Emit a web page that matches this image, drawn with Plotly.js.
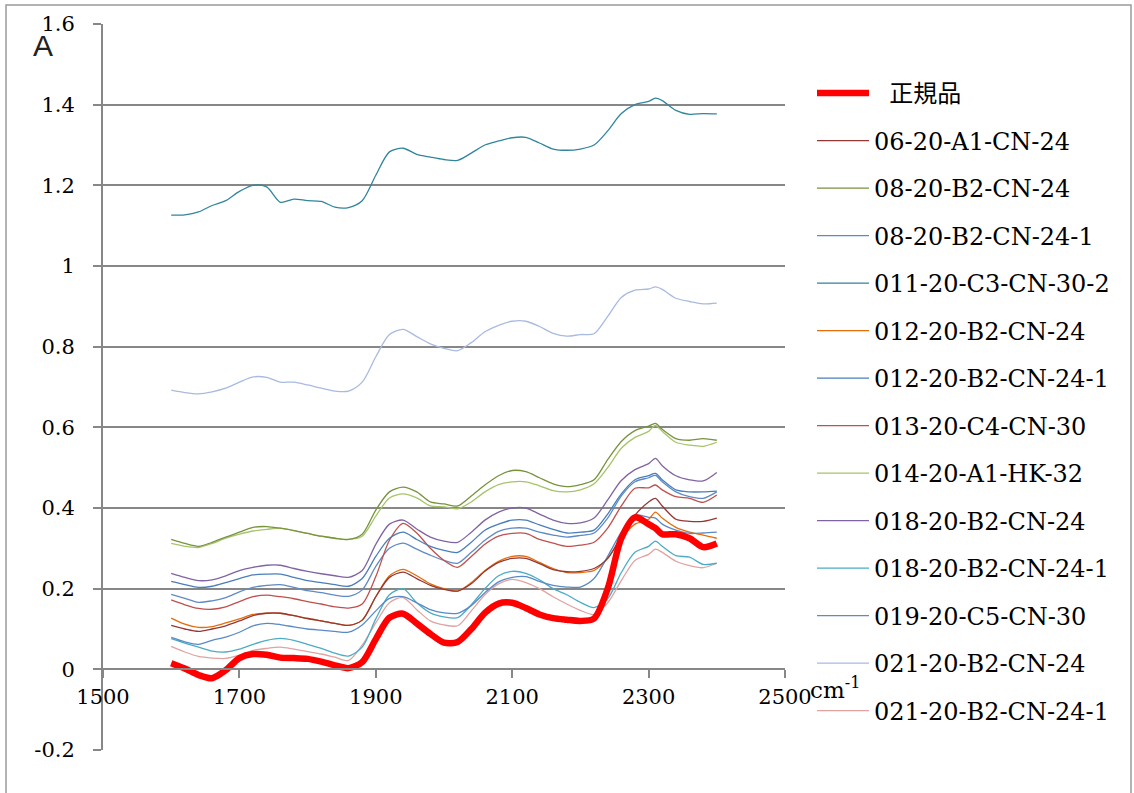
<!DOCTYPE html>
<html>
<head>
<meta charset="utf-8">
<script src="https://cdn.plot.ly/plotly-3.0.1.min.js"></script>
<style>html,body{margin:0;padding:0;background:#fff;}#chart{width:1134px;height:793px;}</style>
</head>
<body>
<div id="chart"></div>
<script>
// wavenumber (cm-1)
const wavenumber = [1600,1620,1640,1660,1680,1700,1720,1740,1760,1780,1800,1820,1840,1860,1880,1900,1920,1940,1960,1980,2000,2020,2040,2060,2080,2100,2120,2140,2160,2180,2200,2220,2240,2260,2280,2300,2310,2320,2340,2360,2380,2400];

const seikihin = [0.015,0.002,-0.014,-0.022,-0.002,0.028,0.038,0.036,0.029,0.028,0.026,0.019,0.010,0.003,0.018,0.075,0.128,0.138,0.114,0.088,0.066,0.068,0.10,0.14,0.163,0.165,0.152,0.136,0.127,0.123,0.12,0.126,0.2,0.325,0.377,0.36,0.35,0.335,0.335,0.325,0.303,0.312];
const s06_20_A1_CN_24 = [0.109,0.1,0.094,0.1,0.108,0.12,0.133,0.139,0.139,0.133,0.126,0.12,0.114,0.109,0.122,0.18,0.228,0.241,0.225,0.208,0.198,0.194,0.212,0.243,0.265,0.275,0.275,0.262,0.247,0.242,0.243,0.25,0.275,0.33,0.382,0.415,0.424,0.405,0.372,0.367,0.367,0.375];
const s08_20_B2_CN_24 = [0.322,0.312,0.305,0.315,0.328,0.34,0.352,0.354,0.35,0.344,0.337,0.33,0.325,0.322,0.335,0.395,0.44,0.452,0.44,0.415,0.41,0.405,0.43,0.457,0.48,0.493,0.49,0.475,0.46,0.453,0.458,0.47,0.52,0.565,0.592,0.603,0.61,0.595,0.572,0.568,0.572,0.568];
const s08_20_B2_CN_24_1 = [0.079,0.068,0.062,0.072,0.08,0.092,0.108,0.114,0.111,0.105,0.1,0.097,0.094,0.092,0.11,0.145,0.176,0.18,0.165,0.148,0.14,0.139,0.158,0.19,0.217,0.228,0.23,0.218,0.208,0.204,0.204,0.225,0.28,0.34,0.382,0.377,0.375,0.36,0.345,0.337,0.338,0.34];
const s011_20_C3_CN_30_2 = [1.126,1.127,1.134,1.15,1.162,1.185,1.2,1.196,1.158,1.166,1.162,1.16,1.146,1.145,1.162,1.225,1.283,1.292,1.277,1.27,1.264,1.262,1.28,1.3,1.31,1.318,1.319,1.305,1.29,1.287,1.29,1.3,1.335,1.378,1.4,1.408,1.416,1.41,1.386,1.376,1.378,1.377];
const s012_20_B2_CN_24 = [0.127,0.112,0.104,0.106,0.115,0.125,0.136,0.139,0.139,0.133,0.126,0.12,0.114,0.109,0.122,0.18,0.232,0.248,0.232,0.212,0.2,0.194,0.215,0.245,0.268,0.28,0.28,0.265,0.25,0.24,0.24,0.245,0.275,0.325,0.36,0.372,0.39,0.375,0.352,0.34,0.333,0.325];
const s012_20_B2_CN_24_1 = [0.218,0.21,0.203,0.206,0.215,0.225,0.234,0.236,0.236,0.228,0.22,0.215,0.21,0.206,0.225,0.28,0.325,0.34,0.322,0.305,0.295,0.29,0.315,0.345,0.36,0.37,0.37,0.358,0.347,0.338,0.34,0.345,0.385,0.435,0.47,0.48,0.486,0.47,0.445,0.44,0.44,0.442];
const s013_20_C4_CN_30 = [0.172,0.16,0.151,0.149,0.155,0.168,0.18,0.184,0.18,0.175,0.168,0.162,0.155,0.152,0.162,0.23,0.32,0.362,0.338,0.3,0.27,0.253,0.28,0.31,0.33,0.337,0.337,0.322,0.313,0.305,0.308,0.315,0.35,0.405,0.449,0.45,0.457,0.445,0.428,0.424,0.414,0.432];
const s014_20_A1_HK_32 = [0.312,0.305,0.302,0.312,0.325,0.335,0.343,0.347,0.35,0.344,0.337,0.33,0.325,0.322,0.33,0.38,0.425,0.435,0.425,0.405,0.403,0.398,0.415,0.44,0.458,0.465,0.465,0.455,0.443,0.44,0.445,0.46,0.5,0.548,0.575,0.59,0.605,0.59,0.563,0.556,0.553,0.563];
const s018_20_B2_CN_24 = [0.238,0.228,0.22,0.222,0.232,0.245,0.253,0.258,0.258,0.25,0.243,0.237,0.232,0.228,0.245,0.31,0.36,0.37,0.348,0.328,0.318,0.315,0.34,0.37,0.39,0.4,0.4,0.385,0.37,0.362,0.363,0.375,0.42,0.468,0.495,0.51,0.523,0.505,0.48,0.47,0.467,0.488];
const s018_20_B2_CN_24_1 = [0.076,0.065,0.055,0.045,0.043,0.05,0.062,0.072,0.077,0.072,0.062,0.052,0.04,0.033,0.055,0.125,0.185,0.2,0.165,0.14,0.13,0.128,0.16,0.2,0.232,0.243,0.238,0.222,0.2,0.185,0.166,0.153,0.175,0.24,0.29,0.305,0.318,0.305,0.282,0.278,0.26,0.263];
const s019_20_C5_CN_30 = [0.186,0.176,0.166,0.17,0.178,0.192,0.203,0.208,0.21,0.203,0.195,0.19,0.184,0.181,0.197,0.255,0.3,0.313,0.298,0.283,0.27,0.263,0.29,0.32,0.342,0.35,0.35,0.34,0.333,0.328,0.332,0.338,0.375,0.43,0.465,0.475,0.481,0.465,0.44,0.428,0.424,0.44];
const s021_20_B2_CN_24 = [0.692,0.686,0.683,0.688,0.697,0.712,0.725,0.724,0.712,0.712,0.705,0.697,0.69,0.69,0.712,0.775,0.83,0.843,0.825,0.807,0.796,0.79,0.81,0.837,0.853,0.863,0.863,0.85,0.833,0.826,0.83,0.832,0.875,0.922,0.94,0.943,0.948,0.942,0.92,0.912,0.906,0.908];
const s021_20_B2_CN_24_1 = [0.057,0.043,0.032,0.028,0.027,0.035,0.047,0.052,0.055,0.05,0.044,0.038,0.03,0.022,0.06,0.115,0.165,0.178,0.148,0.12,0.11,0.108,0.145,0.185,0.212,0.223,0.215,0.2,0.18,0.162,0.146,0.136,0.165,0.22,0.27,0.285,0.298,0.29,0.268,0.257,0.252,0.263];

const seriesNames = ['正規品','06-20-A1-CN-24','08-20-B2-CN-24','08-20-B2-CN-24-1','011-20-C3-CN-30-2','012-20-B2-CN-24','012-20-B2-CN-24-1','013-20-C4-CN-30','014-20-A1-HK-32','018-20-B2-CN-24','018-20-B2-CN-24-1','019-20-C5-CN-30','021-20-B2-CN-24','021-20-B2-CN-24-1'];
const seriesValues = [seikihin,s06_20_A1_CN_24,s08_20_B2_CN_24,s08_20_B2_CN_24_1,s011_20_C3_CN_30_2,s012_20_B2_CN_24,s012_20_B2_CN_24_1,s013_20_C4_CN_30,s014_20_A1_HK_32,s018_20_B2_CN_24,s018_20_B2_CN_24_1,s019_20_C5_CN_30,s021_20_B2_CN_24,s021_20_B2_CN_24_1];
const seriesColors = ['#FF0000','#953735','#77933C','#5A8AC6','#31859C','#E46C0A','#4A7EBB','#C0504D','#A6C46A','#8064A2','#4BACC6','#5F8BC4','#A9BAE0','#E0A3A2'];

const yTickVals = [-0.2,0,0.2,0.4,0.6,0.8,1,1.2,1.4,1.6];
const yTickText = ['-0.2','0','0.2','0.4','0.6','0.8','1','1.2','1.4','1.6'];
const xTickVals = [1500,1700,1900,2100,2300,2500];
const xTickText = ['1500','1700','1900','2100','2300','2500'];

const traces = [];
for (let i = seriesNames.length - 1; i >= 1; i--) {
  traces.push({
    x: wavenumber, y: seriesValues[i], type: 'scatter', mode: 'lines',
    name: seriesNames[i], legendrank: i + 1, legendgroup: 'g' + i,
    line: {color: seriesColors[i], width: 1.3, shape: 'spline', smoothing: 0.8}
  });
}
traces.push({
  x: wavenumber, y: seriesValues[0], type: 'scatter', mode: 'lines',
  name: '\u00a0\u00a0' + seriesNames[0], legendrank: 1, legendgroup: 'g0',
  line: {color: seriesColors[0], width: 6.5, shape: 'spline', smoothing: 0.8}
});

const serif = "'DejaVu Serif', 'Noto Sans CJK JP', serif";
const layout = {
  width: 1134, height: 793,
  margin: {l: 103, r: 349, t: 24, b: 43, pad: 0},
  paper_bgcolor: '#ffffff', plot_bgcolor: '#ffffff',
  showlegend: true,
  font: {family: serif, size: 21, color: '#000'},
  xaxis: {
    range: [1500, 2500], tickvals: xTickVals, ticktext: xTickText,
    anchor: 'free', position: 0.2/1.8,
    showgrid: false, zeroline: false,
    showline: true, linecolor: '#878787', linewidth: 2,
    ticks: 'outside', ticklen: 8, tickwidth: 2, tickcolor: '#878787',
    tickfont: {family: serif, size: 21, color: '#000'}
  },
  yaxis: {
    range: [-0.2, 1.6], tickvals: yTickVals, ticktext: yTickText,
    showgrid: true, gridcolor: '#878787', gridwidth: 2, zeroline: false,
    showline: true, linecolor: '#878787', linewidth: 2,
    ticks: 'outside', ticklen: 8, tickwidth: 2, tickcolor: '#878787',
    ticklabelstandoff: 14,
    tickfont: {family: serif, size: 21, color: '#000'}
  },
  legend: {
    x: (812 - 103) / 682, y: (750 - 71) / 726, xanchor: 'left', yanchor: 'top',
    traceorder: 'grouped', tracegroupgap: 13.3, itemwidth: 52,
    bgcolor: 'rgba(0,0,0,0)',
    font: {family: serif, size: 24, color: '#000'}
  },
  annotations: [
    {text: 'A', xref: 'paper', yref: 'paper', x: (43 - 103) / 682, y: (750 - 45) / 726,
     xanchor: 'center', yanchor: 'middle', showarrow: false,
     font: {family: "'Liberation Sans', Arial, sans-serif", size: 30, color: '#222'}},
    {text: 'cm<sup>-1</sup>', xref: 'paper', yref: 'paper', x: (808 - 103) / 682, y: (750 - 688) / 726,
     xanchor: 'left', yanchor: 'middle', showarrow: false,
     font: {family: serif, size: 23, color: '#000'}}
  ],
  shapes: [
    {type: 'rect', xref: 'paper', yref: 'paper',
     x0: (6 - 103) / 682, x1: (1131 - 103) / 682, y0: (750 - 800) / 726, y1: (750 - 5) / 726,
     line: {color: '#9a9a9a', width: 1.5}, fillcolor: 'rgba(0,0,0,0)', layer: 'below'}
  ]
};

Plotly.newPlot('chart', traces, layout, {displayModeBar: false, staticPlot: true});
</script>
</body>
</html>
